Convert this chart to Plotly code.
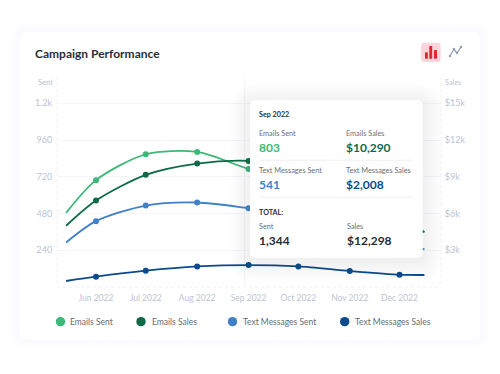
import plotly.graph_objects as go

# ---- data ----
DATES = ["2022-05-14", "2022-06-01", "2022-07-01", "2022-08-01", "2022-09-01",
         "2022-10-01", "2022-11-01", "2022-12-01", "2022-12-16"]
EMAILS_SENT = [484, 698, 867, 882, 771, 690, 560, 420, 359]
EMAILS_SALES = [5000, 7060, 9155, 10076, 10296, 9800, 8000, 5400, 4500]
TEXT_SENT = [291, 430, 532, 552, 515, 470, 390, 290, 246]
TEXT_SALES = [489, 840, 1329, 1680, 1793, 1680, 1304, 1003, 978]

SERIES_NAMES = ["Emails Sent", "Emails Sales", "Text Messages Sent", "Text Messages Sales"]
LEFT_TICKS = [240, 480, 720, 960, 1200]
LEFT_LABELS = ["240", "480", "720", "960", "1.2k"]
RIGHT_TICKS = [3000, 6000, 9000, 12000, 15000]
RIGHT_LABELS = ["$3k", "$6k", "$9k", "$12k", "$15k"]
TITLE = "Campaign Performance"
TIP_MONTH = "Sep 2022"
TIP_VALUES = ["803", "$10,290", "541", "$2,008"]
TIP_TOTALS = [("Sent", "1,344"), ("Sales", "$12,298")]

# ---- styling ----
W, H = 500, 374
L, R, T, B = 57, 441, 77, 287.3
FONT = "Lato"
COLORS = ["#3cb878", "#0f6b45", "#4080c8", "#0b4a8e"]
AXIS = "#bcc3d4"
GRID = "#f3f5fa"
SENT_TOP = (B - T) / 36.8 * 240


def px(x):
    return (x - L) / (R - L)


def py(y):
    return (B - y) / (B - T)


def box(x0, y0, x1, y1, r=0):
    X0, X1, Y0, Y1 = px(x0), px(x1), py(y0), py(y1)
    rx, ry = r / (R - L), r / (B - T)
    return (f"M{X0+rx},{Y0} L{X1-rx},{Y0} Q{X1},{Y0} {X1},{Y0-ry} L{X1},{Y1+ry} Q{X1},{Y1} {X1-rx},{Y1} "
            f"L{X0+rx},{Y1} Q{X0},{Y1} {X0},{Y1+ry} L{X0},{Y0-ry} Q{X0},{Y0} {X0+rx},{Y0} Z")


shapes, notes = [], []


def paper(**k):
    shapes.append(dict(xref="paper", yref="paper", **k))


def rrect(x0, y0, x1, y1, r, fill, layer="above", opacity=1):
    paper(type="path", path=box(x0, y0, x1, y1, r), fillcolor=fill, line_width=0, layer=layer, opacity=opacity)


def seg(x0, y0, x1, y1, color, width=1, dash="solid", layer="below"):
    paper(type="line", x0=px(x0), x1=px(x1), y0=py(y0), y1=py(y1),
          line=dict(color=color, width=width, dash=dash), layer=layer)


def text(x, y, s, size, color, bold=False, anchor="left"):
    nudge = -1.5 if anchor == "left" else 1.5
    notes.append(dict(xref="paper", yref="paper", x=px(x + nudge), y=py(y), text=f"<b>{s}</b>" if bold else s,
                      showarrow=False, xanchor=anchor, yanchor="middle", borderpad=0,
                      font=dict(family=FONT, size=size, color=color)))


# outer card with a faint shadow
for i in range(6):
    rrect(20 - i * 2, 32 - i * 2, 480 + i * 2, 340 + i * 2, 8 + i, "#5a6aa0", "below", 0.002)
rrect(20, 32, 480, 340, 8, "#ffffff", "below")

# frame and crosshair
seg(L, T, L, B, "#f0f2f6", 1, "dot")
seg(R, T, R, B, "#f0f2f6", 1, "dot")
seg(L, B, R, B, "#eef0f5", 1, "dot")
seg(244.7, 78, 244.7, B, "#f1f3f7", 1)

# tooltip
TX0, TY0, TX1, TY1 = 250, 100, 422.7, 258
for i in range(14):
    s = 20 - i * 1.4
    rrect(TX0 - s, TY0 - s + 3, TX1 + s, TY1 + s + 3, 6 + s, "#4a5a9a", "above", 0.006)
rrect(TX0, TY0, TX1, TY1, 6, "#ffffff")
seg(259.6, 160.3, 413, 160.3, "#eceef2", 1, layer="above")
seg(259.6, 197.3, 413, 197.3, "#eceef2", 1, layer="above")

C1, C2 = 259.6, 346
LAB = "#6b7078"
text(C1, 115, TIP_MONTH, 7.2, "#2c2f33", True)
text(C1, 134, SERIES_NAMES[0], 7.3, LAB)
text(C2, 134, SERIES_NAMES[1], 7.3, LAB)
text(C1, 147.5, TIP_VALUES[0], 12, COLORS[0], True)
text(C2, 147.5, TIP_VALUES[1], 12, COLORS[1], True)
text(C1, 171, SERIES_NAMES[2], 7.3, LAB)
text(C2, 171, SERIES_NAMES[3], 7.3, LAB)
text(C1, 184.5, TIP_VALUES[2], 12, COLORS[2], True)
text(C2, 184.5, TIP_VALUES[3], 12, COLORS[3], True)
text(C1, 212.7, "TOTAL:", 7.2, "#2c2f33", True)
text(C1, 227, TIP_TOTALS[0][0], 7.3, LAB)
text(347.7, 227, TIP_TOTALS[1][0], 7.3, LAB)
text(C1, 240.5, TIP_TOTALS[0][1], 12, "#2a2d31", True)
text(347.7, 240.5, TIP_TOTALS[1][1], 12, "#2a2d31", True)

# header
text(35.5, 53, TITLE, 12, "#2b2f33", True)
text(52, 83, "Sent", 7.5, AXIS, anchor="right")
text(445.5, 83, "Sales", 7.3, AXIS)

# icons
rrect(421, 42.7, 440.6, 62, 3, "#fbd5dc")
for x0, x1, y0 in [(425, 427.8, 52.3), (429.3, 432.2, 46), (434, 437, 50)]:
    rrect(x0, y0, x1, 58.6, 0.4, "#e0252f")
ICON = [(450, 56), (454, 49), (457, 53), (461, 47)]
for a, b in zip(ICON, ICON[1:]):
    seg(a[0], a[1], b[0], b[1], "#8f9bb3", 1.2, layer="above")
for x, y in ICON:
    paper(type="circle", x0=px(x - 1.2), x1=px(x + 1.2), y0=py(y - 1.2), y1=py(y + 1.2),
          fillcolor="#8f9bb3", line_width=0, layer="above")

# legend
LEG_Y = 322
for name, color, mx, tx in zip(SERIES_NAMES, COLORS, [60.5, 141, 232.5, 344.7], [70, 152, 243, 355]):
    paper(type="circle", x0=px(mx - 4.7), x1=px(mx + 4.7), y0=py(LEG_Y - 4.7), y1=py(LEG_Y + 4.7),
          fillcolor=color, line_width=0, layer="above")
    text(tx, LEG_Y, name, 8.5, "#666c75")

fig = go.Figure()
for name, vals, color, axis in zip(SERIES_NAMES, [EMAILS_SENT, EMAILS_SALES, TEXT_SENT, TEXT_SALES],
                                   COLORS, ["y", "y2", "y", "y2"]):
    fig.add_trace(go.Scatter(x=DATES, y=vals, name=name, yaxis=axis, mode="lines", cliponaxis=False,
                             line=dict(color=color, width=1.8, shape="spline", smoothing=0.8),
                             hoverinfo="skip", showlegend=False))
    fig.add_trace(go.Scatter(x=DATES[1:-1], y=vals[1:-1], name=name, yaxis=axis, mode="markers",
                             marker=dict(color=color, size=6), showlegend=False))

fig.update_layout(
    width=W, height=H, autosize=False, showlegend=False,
    margin=dict(l=L, r=W - R, t=T, b=H - B, pad=0),
    paper_bgcolor="#ffffff", plot_bgcolor="rgba(0,0,0,0)",
    font=dict(family=FONT, size=9, color=AXIS),
    xaxis=dict(type="date", range=["2022-05-08 12:00", "2022-12-26"], dtick="M1", tick0="2022-06-01",
               tickformat="%b %Y", showgrid=False, zeroline=False, ticks="outside", ticklen=3,
               tickcolor="rgba(0,0,0,0)", showline=False,
               tickfont=dict(family=FONT, size=8.5, color=AXIS)),
    yaxis=dict(range=[0, SENT_TOP], tickvals=LEFT_TICKS, ticktext=LEFT_LABELS, gridcolor=GRID, gridwidth=1,
               zeroline=False, ticks="outside", ticklen=2, tickcolor="rgba(0,0,0,0)", showline=False,
               tickfont=dict(family=FONT, size=9, color=AXIS)),
    yaxis2=dict(range=[0, SENT_TOP * 12.5], tickvals=RIGHT_TICKS, ticktext=RIGHT_LABELS, overlaying="y",
                side="right", showgrid=False, zeroline=False, ticks="outside", ticklen=1,
                tickcolor="rgba(0,0,0,0)", showline=False, tickfont=dict(family=FONT, size=9, color=AXIS)),
    shapes=shapes, annotations=notes,
)
fig.write_html("out.html", config={"displayModeBar": False},
               post_script="document.body.style.margin='0';")
